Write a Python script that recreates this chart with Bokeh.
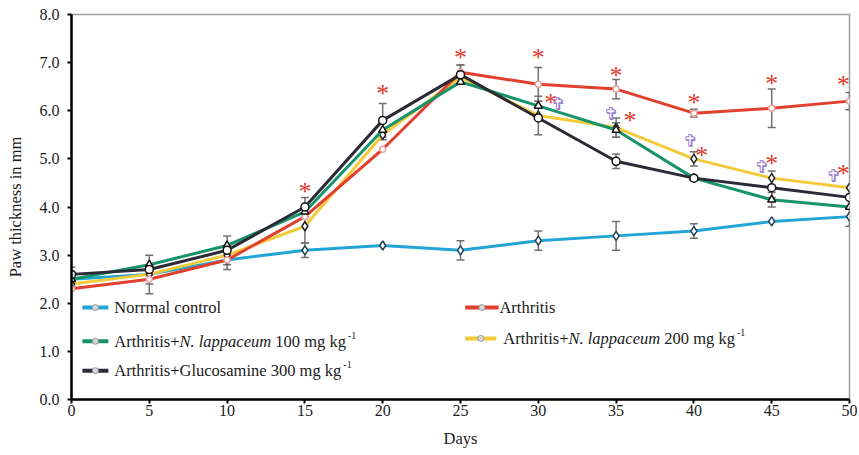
from bokeh.plotting import figure
from bokeh.models import (ColumnDataSource, FixedTicker, NumeralTickFormatter,
                          Whisker, TeeHead, Label, Range1d)
from bokeh.core.properties import value
from bokeh.embed import file_html
from bokeh.resources import INLINE

# ---------------- data ----------------
days = [0, 5, 10, 15, 20, 25, 30, 35, 40, 45, 50]
normal = [2.5, 2.6, 2.9, 3.1, 3.2, 3.1, 3.3, 3.4, 3.5, 3.7, 3.8]
arthritis = [2.3, 2.5, 2.9, 3.8, 5.2, 6.8, 6.55, 6.45, 5.95, 6.05, 6.2]
nl100 = [2.5, 2.8, 3.2, 3.9, 5.6, 6.6, 6.1, 5.6, 4.6, 4.15, 4.0]
nl200 = [2.4, 2.6, 3.0, 3.6, 5.5, 6.7, 5.9, 5.65, 5.0, 4.6, 4.4]
gluco = [2.6, 2.7, 3.1, 4.0, 5.8, 6.75, 5.85, 4.95, 4.6, 4.4, 4.2]

normal_err = [0.15, 0.4, 0.2, 0.15, 0.0, 0.2, 0.2, 0.3, 0.15, 0.0, 0.2]
arthritis_err = [0.0, 0.0, 0.1, 0.0, 0.0, 0.15, 0.35, 0.2, 0.08, 0.4, 0.18]
nl100_err = [0.1, 0.0, 0.2, 0.1, 0.2, 0.0, 0.2, 0.15, 0.0, 0.15, 0.0]
nl200_err = [0.0, 0.2, 0.0, 0.35, 0.0, 0.0, 0.0, 0.2, 0.15, 0.15, 0.0]
gluco_err = [0.15, 0.1, 0.1, 0.2, 0.35, 0.2, 0.35, 0.15, 0.0, 0.2, 0.0]

# significance marks
star_x = [15, 20, 25, 30, 35, 40, 45, 49.6, 30.8, 35.9, 40.5, 45.0, 49.6]
star_y = [4.42, 6.46, 7.21, 7.21, 6.84, 6.28, 6.67, 6.65, 6.27, 5.9, 5.17, 5.0, 4.8]
dagger_x = [31.3, 34.7, 39.8, 44.4, 49.0]
dagger_y = [6.15, 5.95, 5.38, 4.84, 4.66]

x_ticks = [0, 5, 10, 15, 20, 25, 30, 35, 40, 45, 50]
y_ticks = [0, 1, 2, 3, 4, 5, 6, 7, 8]

x_label = "Days"
y_label = "Paw thickness in mm"

C_NORMAL = "#22a5d4"
C_ARTH = "#e2402e"
C_NL100 = "#18946c"
C_NL200 = "#f3cb3a"
C_GLUCO = "#2b2b35"

SERIF = "Liberation Serif"

# ---------------- figure ----------------
W, H = 857, 453
p = figure(width=W, height=H, output_backend="svg", toolbar_location=None,
           x_range=Range1d(0, 50), y_range=Range1d(0, 8),
           min_border_left=71, min_border_right=8, min_border_top=14,
           min_border_bottom=H - 399)
p.background_fill_color = "white"
p.border_fill_color = "white"
p.outline_line_color = "#9a9a9a"
p.outline_line_width = 1.5
p.xgrid.visible = False
p.ygrid.visible = False

for ax in (p.xaxis[0], p.yaxis[0]):
    ax.axis_line_color = "black"
    ax.axis_line_width = 2.5
    ax.major_tick_line_color = "black"
    ax.major_tick_line_width = 2
    ax.major_tick_out = 4
    ax.major_tick_in = 0
    ax.minor_tick_line_color = None
    ax.major_label_text_font = SERIF
    ax.major_label_text_font_size = "16px"
    ax.major_label_text_color = "#1a1a1a"
    ax.axis_label_text_font = SERIF
    ax.axis_label_text_font_size = "16.5px"
    ax.axis_label_text_font_style = "normal"
    ax.axis_label_text_color = "#1a1a1a"

p.xaxis.ticker = FixedTicker(ticks=x_ticks)
p.yaxis.ticker = FixedTicker(ticks=y_ticks)
p.yaxis.formatter = NumeralTickFormatter(format="0.0")
p.xaxis.axis_label = x_label
p.yaxis.axis_label = y_label
p.xaxis.major_label_standoff = 1
p.yaxis.major_label_standoff = 8
p.xaxis.axis_label_standoff = 10
p.yaxis.axis_label_standoff = 12

series = [
    (normal, normal_err, C_NORMAL, "diamond", 9, "#1d3e55"),
    (nl200, nl200_err, C_NL200, "diamond", 9, "#222222"),
    (arthritis, arthritis_err, C_ARTH, "circle", 6, "#e9a0a0"),
    (nl100, nl100_err, C_NL100, "triangle", 8, "#111111"),
    (gluco, gluco_err, C_GLUCO, "circle", 8, "#111111"),
]

# error bars (drawn beneath the lines)
for vals, errs, col, mk, sz, mline in series:
    bx = [d for d, e in zip(days, errs) if e > 0]
    by = [v for v, e in zip(vals, errs) if e > 0]
    be = [e for e in errs if e > 0]
    src = ColumnDataSource(dict(x=bx, upper=[v + e for v, e in zip(by, be)],
                                lower=[v - e for v, e in zip(by, be)]))
    w = Whisker(source=src, base="x", upper="upper", lower="lower",
                line_color="#707070", line_width=1.5, level="underlay",
                upper_head=TeeHead(size=8, line_color="#707070", line_width=1.5),
                lower_head=TeeHead(size=8, line_color="#707070", line_width=1.5))
    p.add_layout(w)

for vals, errs, col, mk, sz, mline in series:
    p.line(days, vals, line_color=col, line_width=3)
    p.scatter(days, vals, marker=mk, size=sz, fill_color="white",
              line_color=mline, line_width=1.5)

# significance symbols
p.text(x=star_x, y=star_y, text=["*"] * len(star_x), text_font=value(SERIF),
       text_font_size="26px", text_color="#e23a2e", text_align="center",
       text_baseline="middle", y_offset=5)
p.text(x=dagger_x, y=dagger_y, text=["\u271e"] * len(dagger_x),
       text_font=value("DejaVu Sans"), text_font_size="18px", text_color="#9a7fd0",
       text_align="center", text_baseline="middle")

# ---------------- legend (manual, for italic and superscript) ----------------
TIMES = {' ': 250, '+': 564, '-': 333, '.': 250, 'A': 722, 'G': 722, 'N': 722,
         'a': 444, 'c': 444, 'e': 444, 'g': 500, 'h': 500, 'i': 278, 'k': 500,
         'l': 278, 'm': 778, 'n': 500, 'o': 500, 'p': 500, 'r': 333, 's': 389,
         't': 278, 'u': 500, 'y': 500}
for d in "0123456789":
    TIMES[d] = 500
TIMES_I = {'N': 667, '.': 250, ' ': 250, 'l': 278, 'a': 500, 'p': 500, 'c': 444,
           'e': 444, 'u': 500, 'm': 722}


def text_width(s, size, italic=False):
    table = TIMES_I if italic else TIMES
    return sum(table.get(ch, 500) for ch in s) * size / 1000.0


LEG_SIZE = 16.5
SUP_SIZE = 10
PX_PER_Y = 385 / 8.0

legend_rows = [
    (0.70, 2.37, 2.75, 1.91, C_NORMAL, [("Norrmal control", "normal")]),
    (0.70, 2.37, 2.75, 1.21, C_NL100, [("Arthritis+", "normal"), ("N. lappaceum", "italic"),
                                       (" 100 mg kg", "normal"), ("-1", "sup")]),
    (0.70, 2.37, 2.75, 0.60, C_GLUCO, [("Arthritis+Glucosamine 300 mg kg", "normal"), ("-1", "sup")]),
    (25.3, 27.45, 27.5, 1.91, C_ARTH, [("Arthritis", "normal")]),
    (25.3, 27.3, 27.75, 1.27, C_NL200, [("Arthritis+", "normal"), ("N. lappaceum", "italic"),
                                        (" 200 mg kg", "normal"), ("-1", "sup")]),
]

for x0, x1, tx, ty, col, parts in legend_rows:
    p.segment(x0=[x0], y0=[ty], x1=[x1], y1=[ty], line_color=col, line_width=4)
    p.scatter(x=[(x0 + x1) / 2], y=[ty], marker="circle", size=6,
              fill_color="#d8d8d8", line_color="#9a9a9a", line_width=1)
    off = 0.0
    for txt, style in parts:
        if style == "sup":
            off += 2
            p.add_layout(Label(x=tx, y=ty + 6 / PX_PER_Y, x_offset=off, text=txt,
                               text_font=SERIF, text_font_size=f"{SUP_SIZE}px",
                               text_color="#1a1a1a", text_baseline="middle"))
            off += text_width(txt, SUP_SIZE)
        else:
            italic = style == "italic"
            lead = len(txt) - len(txt.lstrip(" "))
            off += text_width(" " * lead, LEG_SIZE, italic)
            core = txt.lstrip(" ")
            p.add_layout(Label(x=tx, y=ty, x_offset=off, text=core,
                               text_font=SERIF, text_font_size=f"{LEG_SIZE}px",
                               text_font_style=style, text_color="#1a1a1a",
                               text_baseline="middle"))
            off += text_width(core, LEG_SIZE, italic)

open("out.html", "w").write(file_html(p, INLINE))
